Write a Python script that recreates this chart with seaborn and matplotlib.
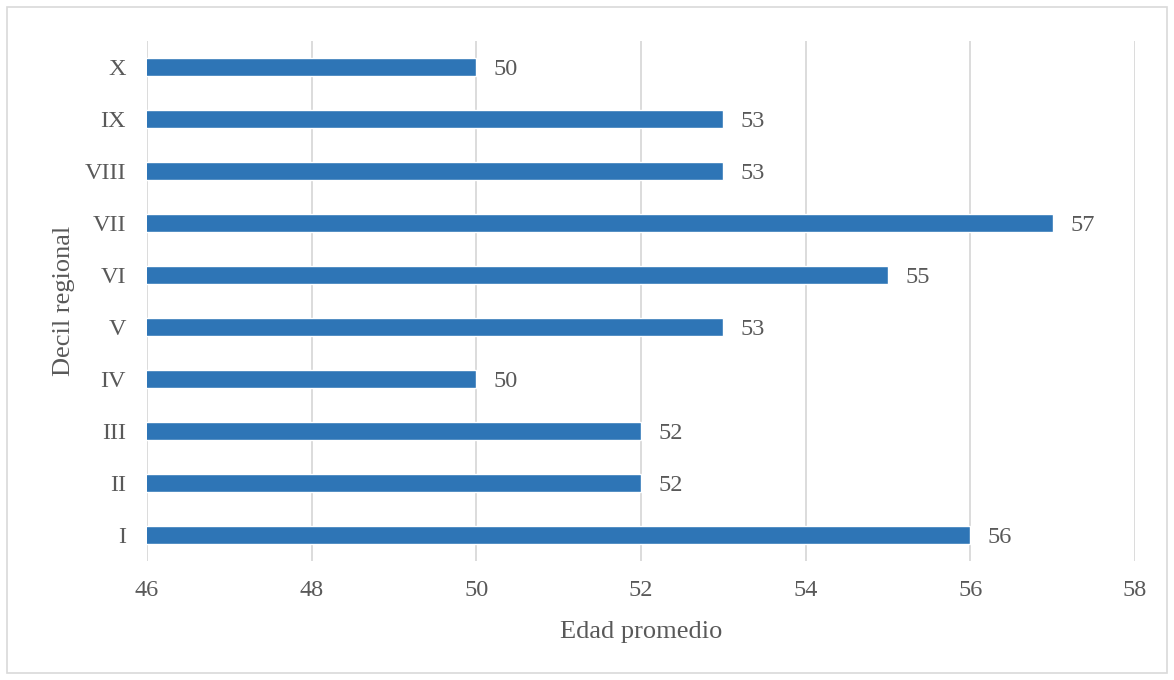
import matplotlib
matplotlib.use("Agg")
import matplotlib.pyplot as plt
import seaborn as sns
import pandas as pd
from matplotlib.patches import Rectangle

categories = ["X", "IX", "VIII", "VII", "VI", "V", "IV", "III", "II", "I"]
values = [50, 53, 53, 57, 55, 53, 50, 52, 52, 56]
x_ticks = [46, 48, 50, 52, 54, 56, 58]

df = pd.DataFrame({"decil": categories, "edad": values})

sns.set_theme(style="white")
plt.rcParams["font.family"] = ["Liberation Serif", "DejaVu Serif"]

fig = plt.figure(figsize=(11.74, 6.8), dpi=100)
ax = fig.add_axes([0.1252, 0.175, 0.8416, 0.7647])

bar_color = "#2E75B6"
text_color = "#595959"

sns.barplot(data=df, y="decil", x="edad", orient="h", color=bar_color,
            width=0.35, ax=ax, saturation=1, order=categories)

ax.set_xlim(46, 58)
ax.set_xticks(x_ticks)
ax.set_xticklabels([str(t) for t in x_ticks])
ax.grid(axis="x", color="#D9D9D9", linewidth=1.3)
ax.set_axisbelow(True)
for s in ax.spines.values():
    s.set_visible(False)
ax.tick_params(axis="both", length=0, labelsize=17.5, labelcolor=text_color)
ax.tick_params(axis="x", pad=14)
ax.tick_params(axis="y", pad=15)

ax.set_xlabel("Edad promedio", fontsize=19, color=text_color, labelpad=14)
ax.set_ylabel("Decil regional", fontsize=19, color=text_color, labelpad=7)

for i, v in enumerate(values):
    ax.annotate(str(v), xy=(v, i), xytext=(12.5, -1.5), textcoords="offset points",
                ha="left", va="center", fontsize=17.5, color=text_color)

fig.patches.append(Rectangle((0.006, 0.01), 0.988, 0.98, transform=fig.transFigure,
                             fill=False, edgecolor="#D9D9D9", linewidth=1.2))

fig.savefig("out.png", dpi=100, facecolor="white")
